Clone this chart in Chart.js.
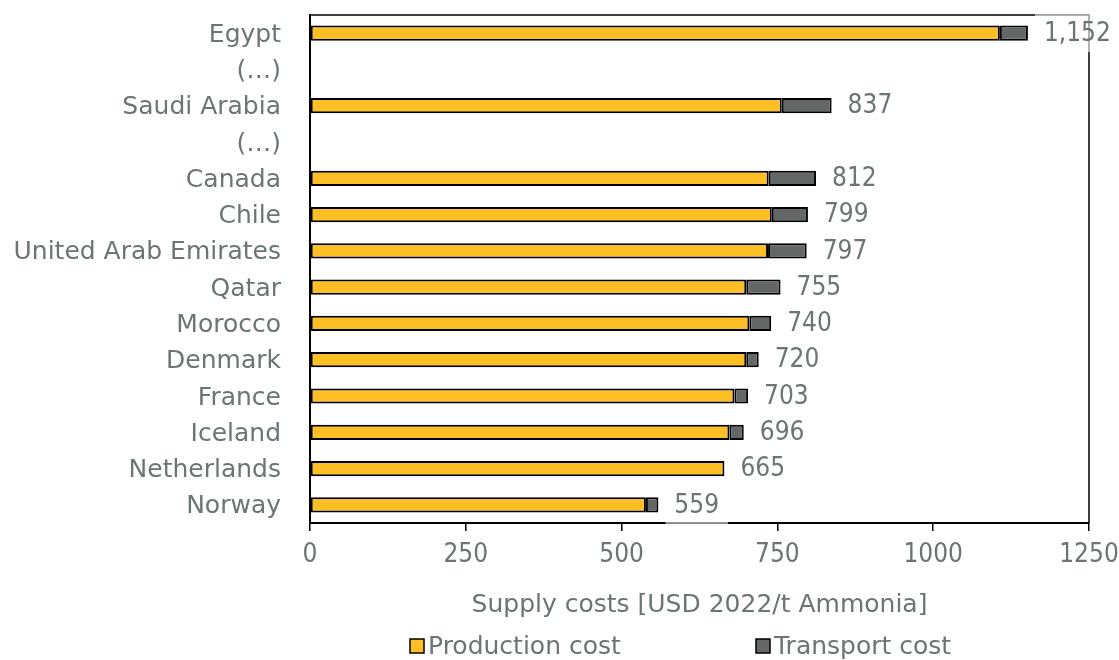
<!DOCTYPE html>
<html>
<head>
<meta charset="utf-8">
<script src="https://cdn.jsdelivr.net/npm/chart.js@4.4.1/dist/chart.umd.min.js"></script>
<style>
  html, body { margin: 0; padding: 0; background: #fff; }
</style>
</head>
<body>
<canvas id="costChart" width="1119" height="660"></canvas>
<script>
// supply cost of ammonia delivered, by exporting country
const countries = ["Egypt", "(…)", "Saudi Arabia", "(…)", "Canada", "Chile", "United Arab Emirates",
  "Qatar", "Morocco", "Denmark", "France", "Iceland", "Netherlands", "Norway"];
const productionCost = [1107, null, 757, null, 736, 741, 735, 700, 705, 700, 681, 673, 665, 539];
const transportCost = [45, null, 80, null, 76, 58, 62, 55, 35, 20, 22, 23, 0, 20];
const xTicks = [0, 250, 500, 750, 1000, 1250];

const FONT = "'DejaVu Sans', sans-serif";
const NUM_FONT = "'DejaVu Sans Condensed', 'DejaVu Sans', sans-serif";
const textGray = "#6b7573";
const yellow = "#fdbf24";
const gray = "#636866";

// top and right edges of the plot box
const frame = {
  id: "frame",
  beforeDatasetsDraw(chart) {
    const { ctx, chartArea: a } = chart;
    ctx.save();
    ctx.strokeStyle = "#000";
    ctx.lineWidth = 1.5;
    ctx.beginPath();
    ctx.moveTo(a.left, a.top);
    ctx.lineTo(a.right, a.top);
    ctx.lineTo(a.right, a.bottom);
    ctx.stroke();
    ctx.restore();
  }
};

// total at the end of every stack, on a pale box
const totalLabels = {
  id: "totalLabels",
  afterDatasetsDraw(chart) {
    const { ctx } = chart;
    const meta = chart.getDatasetMeta(1);
    ctx.save();
    ctx.font = "26px " + NUM_FONT;
    ctx.textBaseline = "middle";
    meta.data.forEach((bar, i) => {
      if (productionCost[i] == null) return;
      const total = productionCost[i] + transportCost[i];
      const text = total.toLocaleString("en-US");
      const w = ctx.measureText(text).width;
      const x0 = bar.x + 7;
      const h = 38;
      ctx.fillStyle = "rgba(255,255,255,0.6)";
      ctx.fillRect(x0, bar.y - h / 2, w + 18, h);
      ctx.fillStyle = textGray;
      ctx.fillText(text, x0 + 9, bar.y + 1);
    });
    ctx.restore();
  }
};

// legend row under the axis title
const legendRow = {
  id: "legendRow",
  afterDraw(chart) {
    const { ctx } = chart;
    const items = [
      { text: "Production cost", color: yellow, x: 410 },
      { text: "Transport cost", color: gray, x: 756 }
    ];
    const y = 646;
    ctx.save();
    ctx.font = "25px " + FONT;
    ctx.textBaseline = "middle";
    items.forEach(it => {
      ctx.fillStyle = it.color;
      ctx.fillRect(it.x, y - 7, 14, 14);
      ctx.strokeStyle = "#000";
      ctx.lineWidth = 1.5;
      ctx.strokeRect(it.x, y - 7, 14, 14);
      ctx.fillStyle = textGray;
      ctx.fillText(it.text, it.x + 18, y + 1);
    });
    ctx.restore();
  }
};

new Chart(document.getElementById("costChart").getContext("2d"), {
  type: "bar",
  data: {
    labels: countries,
    datasets: [
      {
        label: "Production cost",
        data: productionCost,
        backgroundColor: yellow,
        borderColor: "#000",
        borderWidth: 2,
        borderSkipped: false
      },
      {
        label: "Transport cost",
        data: transportCost,
        backgroundColor: gray,
        borderColor: "#000",
        borderWidth: 2,
        borderSkipped: false
      }
    ]
  },
  options: {
    indexAxis: "y",
    responsive: false,
    animation: false,
    devicePixelRatio: 1,
    categoryPercentage: 1,
    barPercentage: 0.42,
    layout: { padding: { left: 10, right: 30, top: 15, bottom: 40 } },
    plugins: {
      legend: { display: false },
      tooltip: { enabled: false }
    },
    scales: {
      x: {
        stacked: true,
        min: xTicks[0],
        max: xTicks[xTicks.length - 1],
        afterBuildTicks: (scale) => {
          scale.ticks = xTicks.map((v) => ({ value: v }));
        },
        ticks: {
          color: textGray,
          font: { family: NUM_FONT, size: 26 },
          padding: 9,
          maxRotation: 0,
          callback: (v) => String(v)
        },
        grid: { drawOnChartArea: false, tickLength: 8, color: "#000", lineWidth: 1.5 },
        border: { color: "#000", width: 2 },
        title: {
          display: true,
          text: "Supply costs [USD 2022/t Ammonia]",
          color: textGray,
          font: { family: FONT, size: 25 },
          padding: { top: 4, bottom: 0 }
        },
        afterFit: (scale) => {
          scale.height = 97;
          // let the last tick label run into the right margin
          scale.paddingRight = 0;
        }
      },
      y: {
        stacked: true,
        // invisible tick marks keep the labels clear of the axis line
        grid: { drawOnChartArea: false, drawTicks: true, tickLength: 29, color: "rgba(0,0,0,0)" },
        border: { color: "#000", width: 2 },
        ticks: {
          color: textGray,
          font: { family: FONT, size: 25 },
          padding: 0,
          labelOffset: 2,
          autoSkip: false
        },
        afterFit: (scale) => { scale.width = 300; }
      }
    }
  },
  plugins: [frame, totalLabels, legendRow]
});
</script>
</body>
</html>
